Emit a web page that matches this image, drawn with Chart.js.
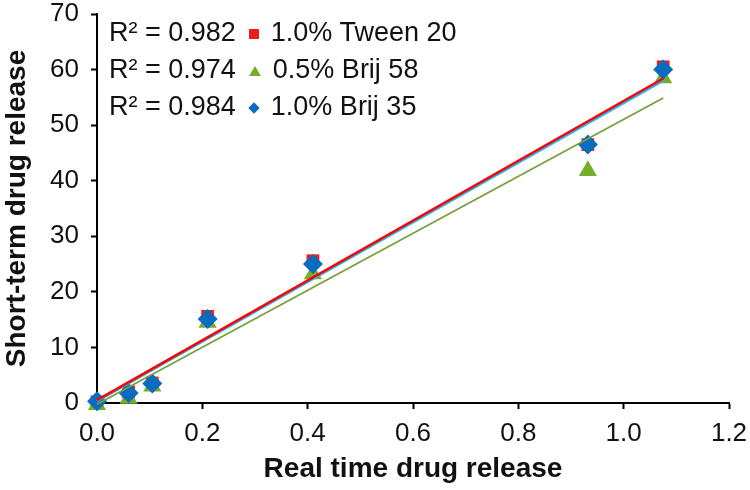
<!DOCTYPE html>
<html lang="en">
<head>
<meta charset="UTF-8">
<title>Drug release correlation</title>
<script src="https://cdn.jsdelivr.net/npm/chart.js@4.4.0/dist/chart.umd.min.js"></script>
<style>
    body{
        margin: 0;
        background-color: white;
    }
    .wrap{
        position: relative;
        width: 750px;
        height: 490px;
    }
    .legend{
        position: absolute;
        left: 109px;
        top: 14px;
        font-family: 'Liberation Sans', Arial, sans-serif;
        font-size: 27px;
        color: #111;
    }
    .row{
        height: 37px;
        line-height: 37px;
        white-space: nowrap;
    }
    .mk{
        display: inline-block;
        margin: 0 12px 0 13px;
        vertical-align: middle;
    }
</style>
</head>
<body>
<div class="wrap">
    <canvas id="miCanvas" width="750" height="490"></canvas>
    <div class="legend" id="legend"></div>
</div>
<script>
    // values
    const xVals = [0, 0.06, 0.105, 0.21, 0.41, 0.932, 1.075];
    const tween20 = [0.2, 2.0, 3.6, 15.6, 25.6, 46.5, 60.5];
    const brij58 = [-0.3, 0.8, 3.0, 14.5, 23.2, 41.8, 58.5];
    const brij35 = [0.3, 1.8, 3.5, 15.1, 25.0, 46.5, 60.0];

    const seriesNames = ["1.0% Tween 20", "0.5% Brij 58", "1.0% Brij 35"];
    const r2Labels = ["R\u00b2 = 0.982", "R\u00b2 = 0.974", "R\u00b2 = 0.984"];

    const toPoints = (ys) => ys.map((y, i) => ({x: xVals[i], y: y}));

    // least squares trendline from the points
    const trend = (ys) => {
        const n = ys.length;
        const mx = xVals.reduce((a, b) => a + b, 0) / n;
        const my = ys.reduce((a, b) => a + b, 0) / n;
        let sxy = 0, sxx = 0;
        for (let i = 0; i < n; i++){
            sxy += (xVals[i] - mx) * (ys[i] - my);
            sxx += (xVals[i] - mx) * (xVals[i] - mx);
        }
        const b = sxy / sxx;
        const a = my - b * mx;
        const x0 = Math.min(...xVals), x1 = Math.max(...xVals);
        return [{x: x0, y: a + b * x0}, {x: x1, y: a + b * x1}];
    };

    const red = '#ee1c1c';
    const green = '#78ad2c';
    const blue = '#0a6cc0';

    // legend
    const legendMarks = [
        '<span class="mk" style="width:10px;height:10px;background:' + red + '"></span>',
        '<span class="mk" style="width:0;height:0;border-left:6px solid transparent;border-right:6px solid transparent;border-bottom:10px solid ' + green + '"></span>',
        '<span class="mk" style="width:8px;height:8px;background:' + blue + ';transform:rotate(45deg);margin:0 13px 0 14px"></span>'
    ];
    let html = '';
    for (let i = 0; i < 3; i++){
        html += '<div class="row">' + r2Labels[i] + legendMarks[i] + seriesNames[i] + '</div>';
    }
    document.getElementById('legend').innerHTML = html;

    const font = 'Liberation Sans';

    new Chart(document.getElementById('miCanvas').getContext('2d'), {
        type: 'scatter',
        data: {
            datasets: [
                {label: seriesNames[0], data: toPoints(tween20), pointStyle: 'rect', pointRadius: 9,
                 backgroundColor: red, borderColor: red, borderWidth: 0, clip: false, order: 5},
                {label: seriesNames[1], data: toPoints(brij58), pointStyle: 'triangle', pointRadius: 10.5,
                 backgroundColor: green, borderColor: green, borderWidth: 0, clip: false, order: 4},
                {label: seriesNames[2], data: toPoints(brij35), pointStyle: 'rectRot', pointRadius: 10,
                 backgroundColor: blue, borderColor: blue, borderWidth: 0, clip: false, order: 3},
                {type: 'line', data: trend(brij58), borderColor: '#77a03a', borderWidth: 1.8,
                 pointRadius: 0, fill: false, clip: false, order: 2},
                {type: 'line', data: trend(brij35), borderColor: '#22b8f0', borderWidth: 2.5,
                 pointRadius: 0, fill: false, clip: false, order: 1},
                {type: 'line', data: trend(tween20), borderColor: '#ff0000', borderWidth: 2.5,
                 pointRadius: 0, fill: false, clip: false, order: 0}
            ]
        },
        options: {
            responsive: false,
            animation: false,
            layout: {padding: {left: 0, top: 14, right: 21, bottom: 0}},
            plugins: {legend: {display: false}, tooltip: {enabled: false}},
            scales: {
                x: {
                    type: 'linear',
                    min: 0, max: 1.2,
                    afterFit: (s) => { s.height = 87; s.paddingLeft = 0; s.paddingRight = 0; },
                    ticks: {stepSize: 0.2, color: '#111', padding: 9,
                        font: {family: font, size: 26},
                        callback: (v) => v.toFixed(1)},
                    grid: {drawOnChartArea: false, tickLength: 6, tickColor: '#000', tickWidth: 2},
                    border: {color: '#000', width: 2},
                    title: {display: true, text: 'Real time drug release', color: '#111',
                        font: {family: font, size: 28, weight: 'bold'}, padding: {top: 0, bottom: 4}}
                },
                y: {
                    min: 0, max: 70,
                    afterFit: (s) => { s.width = 97; s.paddingTop = 0; s.paddingBottom = 0; },
                    ticks: {stepSize: 10, color: '#111', padding: 12,
                        font: {family: font, size: 26}},
                    grid: {drawOnChartArea: false, tickLength: 6, tickColor: '#000', tickWidth: 2},
                    border: {color: '#000', width: 2},
                    title: {display: true, text: 'Short-term drug release', color: '#111',
                        font: {family: font, size: 28, weight: 'bold'}, padding: {top: 0, bottom: 0}}
                }
            }
        }
    });
</script>
</body>
</html>
